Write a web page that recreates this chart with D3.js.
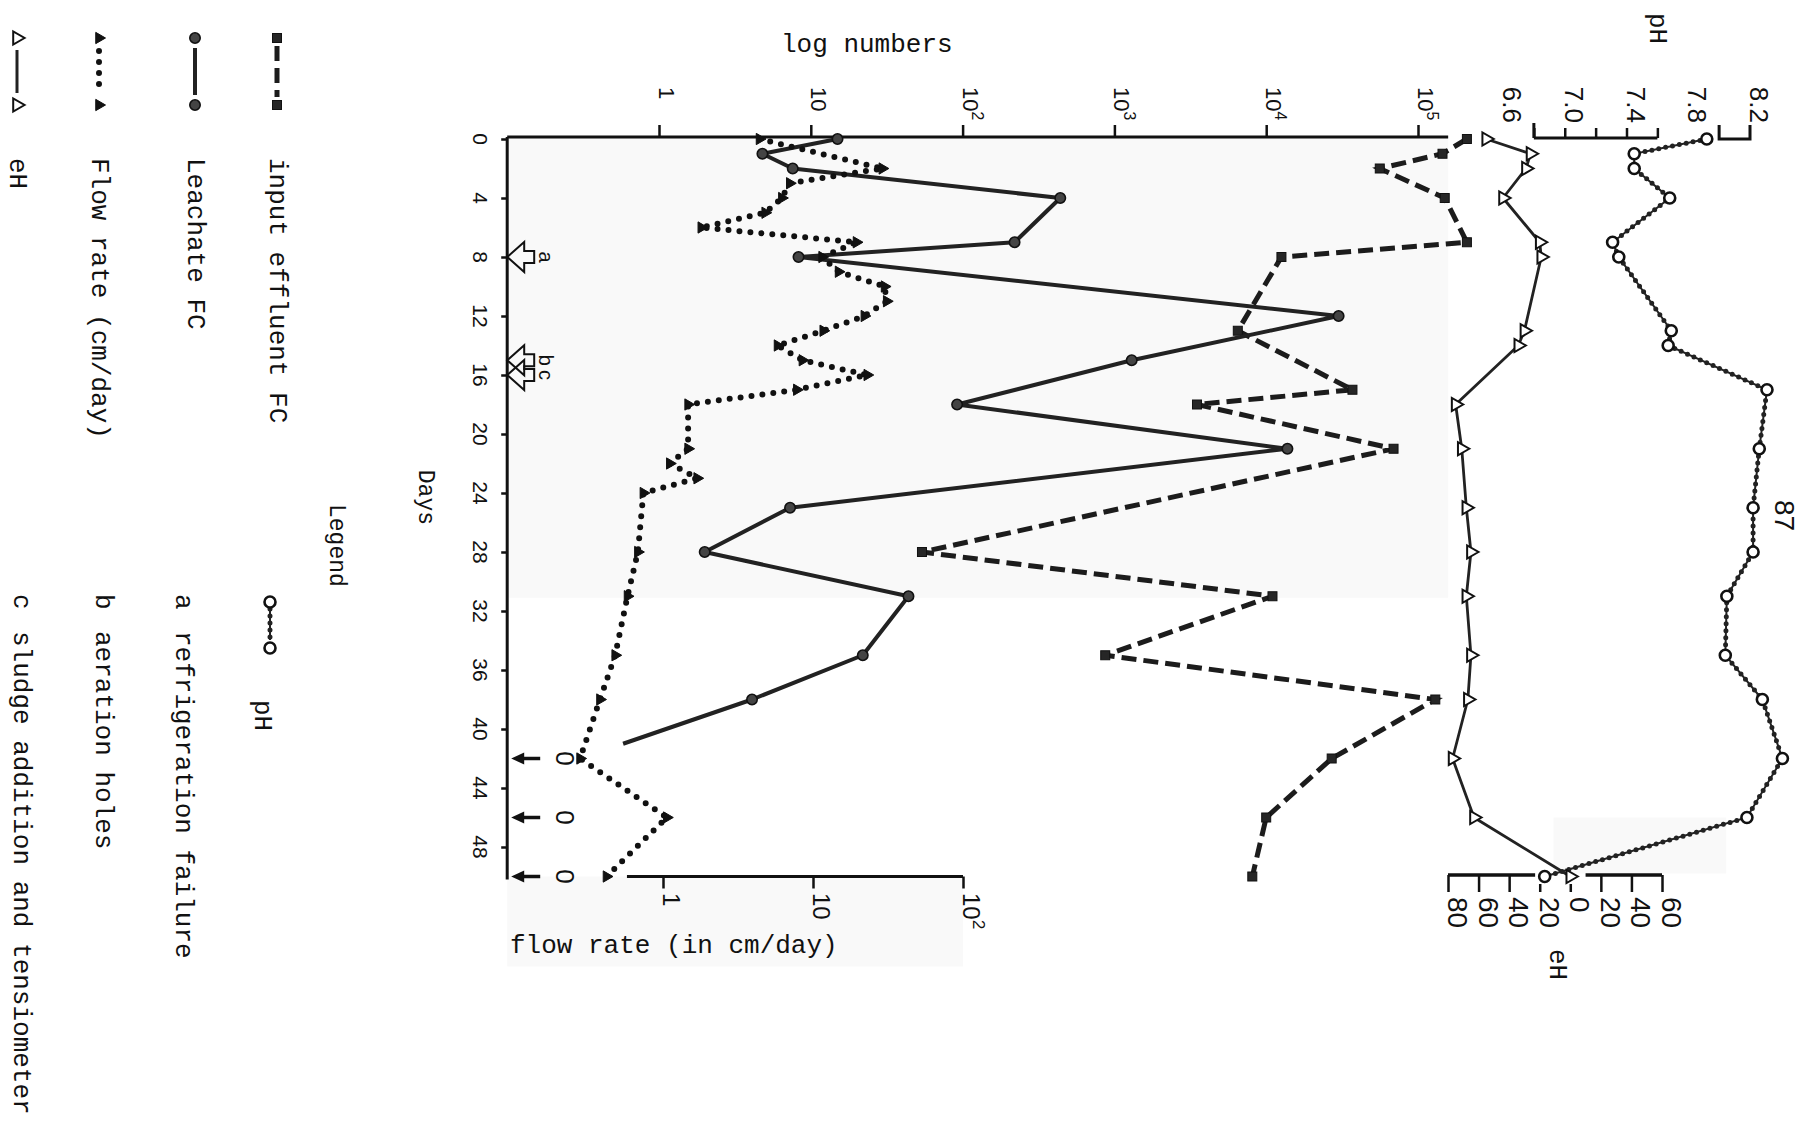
<!DOCTYPE html>
<html>
<head>
<meta charset="utf-8">
<script src="https://cdn.jsdelivr.net/npm/d3@7"></script>
<style>
  html, body { margin: 0; padding: 0; background: #fff; }
  svg { display: block; }
  .mono  { font-family: "Liberation Mono", "DejaVu Sans Mono", monospace; fill: #111; }
  .num   { font-family: "Liberation Sans", Arial, sans-serif; fill: #111; }
</style>
</head>
<body>
<svg id="chart" width="1808" height="1139"></svg>
<script>
// ---------------- data ----------------
const dayTicks = [0, 4, 8, 12, 16, 20, 24, 28, 32, 36, 40, 44, 48];
const logTicks = [1, 10, 100, 1000, 10000, 100000];
const logTickLabels = [["1", ""], ["10", ""], ["10", "2"], ["10", "3"], ["10", "4"], ["10", "5"]];
const flowTicks = [1, 10, 100];
const flowTickLabels = [["1", ""], ["10", ""], ["10", "2"]];
const phTicks = [6.8, 7.0, 7.2, 7.4, 7.6];
const phLabels = [6.6, 7.0, 7.4, 7.8, 8.2];
const ehTicks = [-80, -60, -40, -20, 0, 20, 40, 60];

// input effluent fecal coliforms (per sample)
const inputDays = [0, 1, 2, 4, 7, 8, 13, 17, 18, 21, 28, 31, 35, 38, 42, 46, 50];
const inputFC   = [2.1e5, 1.45e5, 5.6e4, 1.5e5, 2.1e5, 1.26e4, 6.5e3, 3.7e4, 3.5e3, 6.9e4, 54, 1.1e4, 870, 1.3e5, 2.7e4, 1.0e4, 8.1e3];

// leachate fecal coliforms
const leachateDays = [0, 1, 2, 4, 7, 8, 12, 15, 18, 21, 25, 28, 31, 35, 38];
const leachateFC   = [15, 4.8, 7.6, 440, 220, 8.3, 3.0e4, 1300, 92, 1.38e4, 7.3, 2.0, 44, 22, 4.1];
const leachateTailDay = 41;      // line runs off toward zero counts
const leachateTailFC = 0.58;
const zeroCountDays = [42, 46, 50];

// flow rate, cm/day
const flowDays = [0, 2, 3, 4, 5, 6, 7, 8, 9, 10, 11, 12, 13, 14, 15, 16, 17, 18, 21, 22, 23, 24, 28, 31, 35, 38, 42, 46, 50];
const flowRate = [4.4, 29, 7.0, 6.2, 4.8, 1.8, 19.5, 11.5, 14.8, 30, 31, 22, 11.7, 5.8, 8.5, 23, 7.8, 1.47, 1.47, 1.11, 1.69, 0.74, 0.68, 0.58, 0.48, 0.38, 0.28, 1.06, 0.42];

// pH
const phDays   = [0, 1, 2, 4, 7, 8, 13, 14, 17, 21, 25, 28, 31, 35, 38, 42, 46, 50];
const phValues = [7.92, 7.45, 7.45, 7.68, 7.31, 7.35, 7.69, 7.67, 8.31, 8.26, 8.22, 8.22, 8.05, 8.04, 8.28, 8.41, 8.18, 6.87];

// eH, mV
const ehDays   = [0, 1, 2, 4, 7, 8, 13, 14, 18, 21, 25, 28, 31, 35, 38, 42, 46, 50];
const ehValues = [-55, -26, -29, -44, -20, -19, -30, -34, -75, -71, -68, -65, -68, -65, -67, -77, -63, 0];

// events marked on the day axis
const eventDays = [8, 15, 16];
const eventLabels = ["a", "b", "c"];

// ---------------- scales (page is laid out sideways) ----------------
const yDay  = d3.scaleLinear().domain([0, 48]).range([139, 847]);
const xLog  = d3.scaleLog().domain([1, 1e5]).range([659, 1418]);
const xFlow = d3.scaleLog().domain([1, 100]).range([663, 963]);
const xPH   = d3.scaleLinear().domain([6.6, 8.2]).range([1503, 1750]);
const xEH   = d3.scaleLinear().domain([-80, 60]).range([1448, 1662]);

const svg = d3.select("#chart");
const g = svg.append("g");
const INK = "#111";

const axisX = xLog(0.1);          // day axis position
const logAxisY = 137;
const flowAxisY = yDay(50);

// sideways text helper: reads top to bottom
function vtext(x, y, str, cls, size, anchor) {
  return g.append("text")
    .attr("class", cls)
    .attr("transform", `translate(${x},${y}) rotate(90)`)
    .attr("font-size", size)
    .attr("text-anchor", anchor || "start")
    .text(str);
}
function vpow(x, y, base, exp, size, anchor) {
  const t = g.append("text").attr("class", "num")
    .attr("transform", `translate(${x},${y}) rotate(90)`)
    .attr("font-size", size).attr("text-anchor", anchor || "start");
  t.append("tspan").text(base);
  if (exp) t.append("tspan").attr("font-size", size * 0.72).attr("dy", -size * 0.42).text(exp);
  return t;
}

// ---------------- paper tint ----------------
g.append("rect").attr("x", axisX).attr("y", yDay(0) - 2)
  .attr("width", xLog(1.58e5) - axisX).attr("height", yDay(31.1) - yDay(0) + 2)
  .attr("fill", "#f9f9f9");
g.append("rect").attr("x", axisX).attr("y", flowAxisY)
  .attr("width", xFlow(100) - axisX).attr("height", 90).attr("fill", "#f9f9f9");
g.append("rect").attr("x", xEH(-11)).attr("y", yDay(46)).attr("width", xEH(102) - xEH(-11))
  .attr("height", yDay(49.8) - yDay(46)).attr("fill", "#f9f9f9");

// ---------------- day axis ----------------
const dayAxis = g.append("g").attr("transform", `translate(${axisX},0)`)
  .call(d3.axisLeft(yDay).tickValues(dayTicks).tickSize(6).tickSizeOuter(0).tickFormat(""));
dayAxis.select(".domain").remove();
dayAxis.selectAll(".tick line").attr("stroke", INK).attr("stroke-width", 2.5);
g.append("line").attr("x1", axisX).attr("x2", axisX)
  .attr("y1", logAxisY).attr("y2", yDay(50.2))
  .attr("stroke", INK).attr("stroke-width", 3);
dayTicks.forEach(d => vtext(473, yDay(d), String(d), "num", 21, "middle"));
vtext(419, yDay(24.3), "Days", "mono", 23, "middle");

// ---------------- log numbers axis ----------------
const logAxis = g.append("g").attr("transform", `translate(0,${logAxisY})`)
  .call(d3.axisTop(xLog).tickValues(logTicks).tickSize(12).tickSizeOuter(0).tickFormat(""));
logAxis.select(".domain").remove();
logAxis.selectAll(".tick line").attr("stroke", INK).attr("stroke-width", 2.5);
g.append("line").attr("x1", axisX).attr("x2", xLog(1.58e5))
  .attr("y1", logAxisY).attr("y2", logAxisY).attr("stroke", INK).attr("stroke-width", 3);
logTicks.forEach((v, i) => vpow(xLog(v), 87, logTickLabels[i][0], logTickLabels[i][1], 22));
g.append("text").attr("class", "mono").attr("x", 781).attr("y", 52)
  .attr("font-size", 26).text("log numbers");

// ---------------- pH axis ----------------
const phAxis = g.append("g").attr("transform", `translate(0,138)`)
  .call(d3.axisTop(xPH).tickValues(phTicks).tickSize(10).tickSizeOuter(0).tickFormat(""));
phAxis.select(".domain").remove();
phAxis.selectAll(".tick line").attr("stroke", INK).attr("stroke-width", 2.5);
g.append("line").attr("x1", xPH(6.8)).attr("x2", xPH(6.8)).attr("y1", 123).attr("y2", 138)
  .attr("stroke", INK).attr("stroke-width", 3);
g.append("line").attr("x1", xPH(6.8)).attr("x2", xPH(7.6)).attr("y1", 138).attr("y2", 138)
  .attr("stroke", INK).attr("stroke-width", 3);
g.append("path")
  .attr("d", `M${xPH(8.0)},125 V139 H${xPH(8.2)} V125`)
  .attr("fill", "none").attr("stroke", INK).attr("stroke-width", 3);
phLabels.forEach(v => vtext(xPH(v), 123, v.toFixed(1), "num", 26, "end"));
vtext(1650, 13, "pH", "mono", 26, "start");

// ---------------- eH axis ----------------
const ehAxisY = 875;
const ehAxis = g.append("g").attr("transform", `translate(0,${ehAxisY})`)
  .call(d3.axisBottom(xEH).tickValues(ehTicks).tickSize(17).tickSizeOuter(0).tickFormat(""));
ehAxis.select(".domain").remove();
ehAxis.selectAll(".tick line").attr("stroke", INK).attr("stroke-width", 2.5)
  .attr("y1", d => (d === -20 || d === 0) ? 9 : 0);
g.append("line").attr("x1", xEH(-80)).attr("x2", xEH(-23)).attr("y1", ehAxisY).attr("y2", ehAxisY)
  .attr("stroke", INK).attr("stroke-width", 3.5);
g.append("line").attr("x1", xEH(10)).attr("x2", xEH(60)).attr("y1", ehAxisY).attr("y2", ehAxisY)
  .attr("stroke", INK).attr("stroke-width", 3.5);
ehTicks.forEach(v => vtext(xEH(v), 897, String(Math.abs(v)), "num", 28, "start"));
vtext(1550, 949, "eH", "mono", 26, "start");

// ---------------- flow rate axis ----------------
const flowAxis = g.append("g").attr("transform", `translate(0,${flowAxisY})`)
  .call(d3.axisBottom(xFlow).tickValues(flowTicks).tickSize(12).tickSizeOuter(0).tickFormat(""));
flowAxis.select(".domain").remove();
flowAxis.selectAll(".tick line").attr("stroke", INK).attr("stroke-width", 2.5);
g.append("line").attr("x1", xFlow(0.575)).attr("x2", xFlow(100))
  .attr("y1", flowAxisY).attr("y2", flowAxisY).attr("stroke", INK).attr("stroke-width", 3);
flowTicks.forEach((v, i) => vpow(xFlow(v), 893, flowTickLabels[i][0], flowTickLabels[i][1], 24));
g.append("text").attr("class", "mono").attr("x", 510).attr("y", 953)
  .attr("font-size", 26).text("flow rate (in cm/day)");

vtext(1775, 500, "87", "num", 28, "start");

// ---------------- series styles ----------------
const lineGen = (xs, days, vals) =>
  d3.line().x((d, i) => xs(vals[i])).y((d, i) => yDay(days[i]))(days);

function squareMark(sel, x, y) {
  sel.append("rect").attr("x", x - 4.5).attr("y", y - 4.5).attr("width", 9).attr("height", 9)
    .attr("fill", "#262626").attr("stroke", INK).attr("stroke-width", 1);
}
function dotMark(sel, x, y) {
  sel.append("circle").attr("cx", x).attr("cy", y).attr("r", 5.2)
    .attr("fill", "#444").attr("stroke", INK).attr("stroke-width", 1.6);
}
const tri = d3.symbol().type(d3.symbolTriangle);
function triMark(sel, x, y, filled) {
  sel.append("path").attr("d", tri.size(filled ? 55 : 75)())
    .attr("transform", `translate(${x},${y}) rotate(90)`)
    .attr("fill", filled ? INK : "#fff").attr("stroke", INK).attr("stroke-width", filled ? 1 : 2);
}
function ringMark(sel, x, y) {
  sel.append("circle").attr("cx", x).attr("cy", y).attr("r", 5.5)
    .attr("fill", "#fff").attr("stroke", INK).attr("stroke-width", 2.6);
}
function dashedPath(sel, d) {
  sel.append("path").attr("d", d).attr("fill", "none").attr("stroke", "#1c1c1c")
    .attr("stroke-width", 5).attr("stroke-dasharray", "15 7");
}
function solidPath(sel, d, w) {
  sel.append("path").attr("d", d).attr("fill", "none").attr("stroke", "#222")
    .attr("stroke-width", w).attr("stroke-linejoin", "round");
}
function dottedPath(sel, d) {
  sel.append("path").attr("d", d).attr("fill", "none").attr("stroke", INK)
    .attr("stroke-width", 6).attr("stroke-linecap", "round").attr("stroke-dasharray", "0 11");
}
function beadPath(sel, d) {
  sel.append("path").attr("d", d).attr("fill", "none").attr("stroke", "#222").attr("stroke-width", 2);
  sel.append("path").attr("d", d).attr("fill", "none").attr("stroke", "#222")
    .attr("stroke-width", 5).attr("stroke-linecap", "round").attr("stroke-dasharray", "0 7");
}

// ---------------- series ----------------
const sInput = g.append("g");
dashedPath(sInput, lineGen(xLog, inputDays, inputFC));
inputDays.forEach((d, i) => squareMark(sInput, xLog(inputFC[i]), yDay(d)));

const sLeach = g.append("g");
solidPath(sLeach, d3.line()([...leachateDays.map((d, i) => [xLog(leachateFC[i]), yDay(d)]),
  [xLog(leachateTailFC), yDay(leachateTailDay)]]), 4);
leachateDays.forEach((d, i) => dotMark(sLeach, xLog(leachateFC[i]), yDay(d)));

const sFlow = g.append("g");
dottedPath(sFlow, lineGen(xFlow, flowDays, flowRate));
flowDays.forEach((d, i) => triMark(sFlow, xFlow(flowRate[i]), yDay(d), true));

const sPH = g.append("g");
beadPath(sPH, lineGen(xPH, phDays, phValues));
phDays.forEach((d, i) => ringMark(sPH, xPH(phValues[i]), yDay(d)));

const sEH = g.append("g");
solidPath(sEH, lineGen(xEH, ehDays, ehValues), 2.8);
ehDays.forEach((d, i) => triMark(sEH, xEH(ehValues[i]), yDay(d), false));

// zero leachate counts: arrows pointing below the scale
zeroCountDays.forEach(d => {
  const y = yDay(d);
  g.append("line").attr("x1", axisX + 33).attr("x2", axisX + 14).attr("y1", y).attr("y2", y)
    .attr("stroke", INK).attr("stroke-width", 3.5);
  g.append("path").attr("d", `M${axisX + 4},${y} L${axisX + 17},${y - 6} L${axisX + 17},${y + 6} Z`)
    .attr("fill", INK);
  vtext(axisX + 49, y, "0", "num", 26, "middle");
});

// event markers (hollow arrows on the day axis)
const arrowPts = [[0, 0], [17, -15], [17, -6], [27, -6], [27, 6], [17, 6], [17, 15]];
eventDays.forEach((d, i) => {
  const y = yDay(d);
  g.append("path")
    .attr("d", "M" + arrowPts.map(p => `${axisX + p[0]},${y + p[1]}`).join("L") + "Z")
    .attr("fill", "none").attr("stroke", INK).attr("stroke-width", 2);
  vtext(axisX + 32, y, eventLabels[i], "num", 20, "middle");
});

// ---------------- legend ----------------
const legendLeft = [
  { label: "input effluent FC", base: 270, kind: "input" },
  { label: "Leachate FC", base: 188, kind: "leachate" },
  { label: "Flow rate (cm/day)", base: 92, kind: "flow" },
  { label: "eH", base: 10, kind: "eh" }
];
legendLeft.forEach(e => {
  const cx = e.base + 7, y0 = 38, y1 = 105;
  const lg = g.append("g");
  if (e.kind === "input") { dashedPath(lg, d3.line()([[cx, y0 + 8], [cx, y1 - 8]])); squareMark(lg, cx, y0); squareMark(lg, cx, y1); }
  if (e.kind === "leachate") { solidPath(lg, d3.line()([[cx, y0 + 10], [cx, y1 - 10]]), 4); dotMark(lg, cx, y0); dotMark(lg, cx, y1); }
  if (e.kind === "flow") { dottedPath(lg, d3.line()([[cx, y0 + 13], [cx, y1 - 10]])); triMark(lg, cx, y0, true); triMark(lg, cx, y1, true); }
  if (e.kind === "eh") { solidPath(lg, d3.line()([[cx, y0 + 12], [cx, y1 - 12]]), 3); triMark(lg, cx, y0, false); triMark(lg, cx, y1, false); }
  vtext(e.base, 158, e.label, "mono", 26, "start");
});
vtext(330, 504, "Legend", "mono", 23, "start");
{
  const lg = g.append("g"), cx = 270;
  beadPath(lg, d3.line()([[cx, 609], [cx, 640]]));
  ringMark(lg, cx, 602); ringMark(lg, cx, 648);
  vtext(255, 700, "pH", "mono", 26, "start");
}
const notes = [
  { key: "a", text: "refrigeration failure", base: 176 },
  { key: "b", text: "aeration holes", base: 96 },
  { key: "c", text: "sludge addition and tensiometer", base: 14 }
];
notes.forEach(n => {
  vtext(n.base, 594, n.key, "mono", 26, "start");
  vtext(n.base, 631, n.text, "mono", 26, "start");
});
</script>
</body>
</html>
